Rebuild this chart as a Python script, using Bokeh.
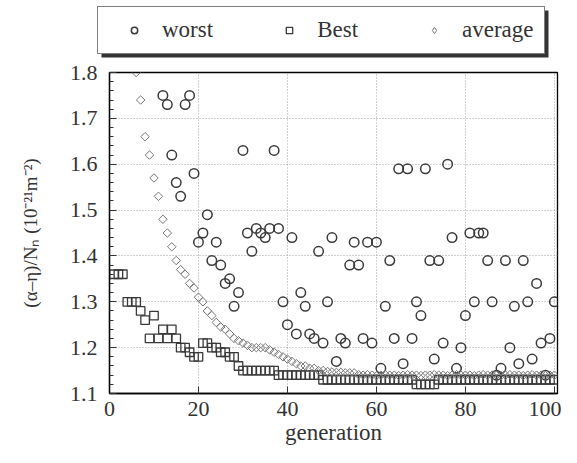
from bokeh.plotting import figure
from bokeh.layouts import column
from bokeh.models import Legend, LegendItem, Range1d, FixedTicker, BoxAnnotation
from bokeh.embed import file_html
from bokeh.resources import INLINE

FONT = "Liberation Serif"

# ---- data ----
worst_gen = list(range(12, 101))
worst = [1.75, 1.73, 1.62, 1.56, 1.53, 1.73, 1.75, 1.58, 1.43, 1.45,   # 12-21
         1.49, 1.39, 1.43, 1.38, 1.34, 1.35, 1.29, 1.32, 1.63, 1.45,   # 22-31
         1.41, 1.46, 1.45, 1.44, 1.46, 1.63, 1.46, 1.30, 1.25, 1.44,   # 32-41
         1.23, 1.32, 1.29, 1.23, 1.22, 1.41, 1.21, 1.30, 1.44, 1.17,   # 42-51
         1.22, 1.21, 1.38, 1.43, 1.38, 1.22, 1.43, 1.21, 1.43, 1.155,  # 52-61
         1.29, 1.39, 1.22, 1.59, 1.165, 1.59, 1.22, 1.30, 1.27, 1.59,  # 62-71
         1.39, 1.175, 1.39, 1.21, 1.60, 1.44, 1.155, 1.20, 1.27, 1.45, # 72-81
         1.30, 1.45, 1.45, 1.39, 1.30, 1.14, 1.155, 1.39, 1.20, 1.29,  # 82-91
         1.165, 1.39, 1.30, 1.175, 1.34, 1.21, 1.14, 1.22, 1.30]       # 92-100

best_gen = list(range(1, 101))
best = [1.36, 1.36, 1.36, 1.30, 1.30, 1.30, 1.28, 1.26, 1.22, 1.27,   # 1-10
        1.22, 1.24, 1.22, 1.24, 1.22, 1.20, 1.20, 1.19, 1.18, 1.18,   # 11-20
        1.21, 1.21, 1.20, 1.20, 1.19, 1.19, 1.18, 1.18, 1.16, 1.15,   # 21-30
        1.15, 1.15, 1.15, 1.15, 1.15, 1.15, 1.15, 1.14, 1.14, 1.14,   # 31-40
        1.14, 1.14, 1.14, 1.14, 1.14, 1.14, 1.14, 1.13, 1.13, 1.13,   # 41-50
        1.13, 1.13, 1.13, 1.13, 1.13, 1.13, 1.13, 1.13, 1.13, 1.13,   # 51-60
        1.13, 1.13, 1.13, 1.13, 1.13, 1.13, 1.13, 1.13, 1.12, 1.12,   # 61-70
        1.12, 1.12, 1.12, 1.13, 1.13, 1.13, 1.13, 1.13, 1.13, 1.13,   # 71-80
        1.13, 1.13, 1.13, 1.13, 1.13, 1.13, 1.13, 1.13, 1.13, 1.13,   # 81-90
        1.13, 1.13, 1.13, 1.13, 1.13, 1.13, 1.13, 1.13, 1.13, 1.13]   # 91-100

avg_gen = list(range(6, 101))
average = [1.80, 1.74, 1.66, 1.62, 1.57,                               # 6-10
           1.53, 1.48, 1.45, 1.42, 1.39, 1.37, 1.36, 1.34, 1.33, 1.31, # 11-20
           1.30, 1.28, 1.27, 1.255, 1.245, 1.24, 1.23, 1.22, 1.215, 1.21,  # 21-30
           1.205, 1.20, 1.20, 1.20, 1.20, 1.195, 1.19, 1.185, 1.18, 1.175, # 31-40
           1.17, 1.165, 1.16, 1.16, 1.155, 1.155, 1.15, 1.15, 1.148, 1.147, # 41-50
           1.146, 1.146, 1.145, 1.145, 1.145, 1.141, 1.140, 1.141, 1.140, 1.139, # 51-60
           1.140, 1.141, 1.140, 1.140, 1.139, 1.140, 1.141, 1.140, 1.140, 1.139, # 61-70
           1.140, 1.140, 1.141, 1.140, 1.140, 1.139, 1.140, 1.141, 1.140, 1.140, # 71-80
           1.140, 1.139, 1.140, 1.141, 1.140, 1.140, 1.140, 1.139, 1.140, 1.141, # 81-90
           1.140, 1.140, 1.139, 1.140, 1.141, 1.140, 1.140, 1.139, 1.140, 1.140] # 91-100

series_names = ["worst", "Best", "average"]
x_ticks = [0, 20, 40, 60, 80, 100]
y_ticks = [1.1, 1.2, 1.3, 1.4, 1.5, 1.6, 1.7, 1.8]
y_minor = [round(1.1 + 0.02 * i, 2) for i in range(36)]

W = 561
LEG_H = 60

STYLE_W = dict(marker="circle", size=9.5, fill_color=None, line_color="#3a3a3a", line_width=1.5)
STYLE_B = dict(marker="square", size=8.5, fill_color=None, line_color="#3a3a3a", line_width=1.3)
STYLE_A = dict(marker="square", angle=0.785398, size=6, fill_color=None,
               line_color="#777777", line_width=1)
STYLE_A_LEG = dict(marker="diamond", size=9, fill_color=None,
                   line_color="#777777", line_width=1)

# ---------------- main plot ----------------
p = figure(width=W, height=447 - LEG_H, output_backend="svg", toolbar_location=None,
           x_range=Range1d(0, 100.7), y_range=Range1d(1.1, 1.8),
           min_border_left=109, min_border_right=4, min_border_top=12,
           min_border_bottom=53)

p.outline_line_color = "black"
p.outline_line_width = 1.3
p.background_fill_color = "white"
p.border_fill_color = "white"

xt = FixedTicker(ticks=x_ticks, minor_ticks=[])
yt = FixedTicker(ticks=y_ticks, minor_ticks=y_minor)
p.xaxis.ticker = xt
p.yaxis.ticker = yt
p.xgrid.ticker = xt
p.ygrid.ticker = yt
for g in (p.xgrid, p.ygrid):
    g.grid_line_color = "#a0a0a0"
    g.grid_line_dash = "1 2"
    g.grid_line_width = 1

for ax in (p.xaxis, p.yaxis):
    ax.axis_line_color = "black"
    ax.axis_line_width = 1.3
    ax.major_tick_in = 7
    ax.major_tick_out = 0
    ax.minor_tick_in = 4
    ax.minor_tick_out = 0
    ax.major_tick_line_color = "#333333"
    ax.minor_tick_line_color = "#333333"
    ax.major_label_text_font = FONT
    ax.major_label_text_font_size = "22px"
    ax.major_label_text_color = "#333333"
    ax.axis_label_text_font = FONT
    ax.axis_label_text_font_style = "normal"
    ax.axis_label_text_color = "#333333"

p.xaxis.axis_label_text_font_size = "23px"
p.yaxis.axis_label_text_font_size = "19px"
p.xaxis.major_label_standoff = 8
p.xaxis.axis_label_standoff = 1
p.yaxis.major_label_standoff = 12
p.yaxis.axis_label_standoff = 26
p.xaxis.axis_label = "generation"
p.yaxis.axis_label = "(α–η)/Nₙ (10⁻²¹m⁻²)"

p.scatter(worst_gen, worst, **STYLE_W)
p.scatter(best_gen, best, **STYLE_B)
p.scatter(avg_gen, average, **STYLE_A)

# ---------------- legend strip ----------------
lg = figure(width=W, height=LEG_H, output_backend="svg", toolbar_location=None,
            x_axis_location=None, y_axis_location=None,
            min_border_top=0, min_border_bottom=0)
try:
    lg.frame_align = False
    aligned = False
except (AttributeError, ValueError):
    aligned = True

if aligned:
    lg.min_border_left = 109
    lg.min_border_right = 4
    x0 = 109
    lg.x_range = Range1d(0, W - 113)
else:
    lg.min_border_left = 0
    lg.min_border_right = 0
    x0 = 0
    lg.x_range = Range1d(0, W)
lg.y_range = Range1d(0, LEG_H)
leg_left = max(97 - x0, 0)

lg.grid.visible = False
lg.outline_line_color = None
lg.background_fill_color = "white"
lg.border_fill_color = "white"

# hidden renderers that only give the legend its glyph styles
l_w = lg.scatter(worst_gen[:1], worst[:1], visible=False, **STYLE_W)
l_b = lg.scatter(best_gen[:1], best[:1], visible=False, **STYLE_B)
l_a = lg.scatter(avg_gen[:1], average[:1], visible=False, **STYLE_A_LEG)

# drop shadow of the legend box
lg.add_layout(BoxAnnotation(left=leg_left + 4, right=leg_left + 451, bottom=3, top=50,
                            fill_color="#333333", fill_alpha=1, line_color=None))

legend = Legend(items=[LegendItem(label=series_names[0], renderers=[l_w]),
                       LegendItem(label=series_names[1], renderers=[l_b]),
                       LegendItem(label=series_names[2], renderers=[l_a])],
                orientation="horizontal", location=(leg_left, 6),
                glyph_width=52, glyph_height=16, label_standoff=2, spacing=50,
                padding=10, margin=0, border_line_color="black",
                border_line_width=1.3, label_text_font=FONT,
                label_text_font_size="23px", label_text_color="#333333",
                background_fill_color="white", background_fill_alpha=1)
lg.add_layout(legend)

layout = column(lg, p, spacing=0)
open("out.html", "w").write(file_html(layout, INLINE))
